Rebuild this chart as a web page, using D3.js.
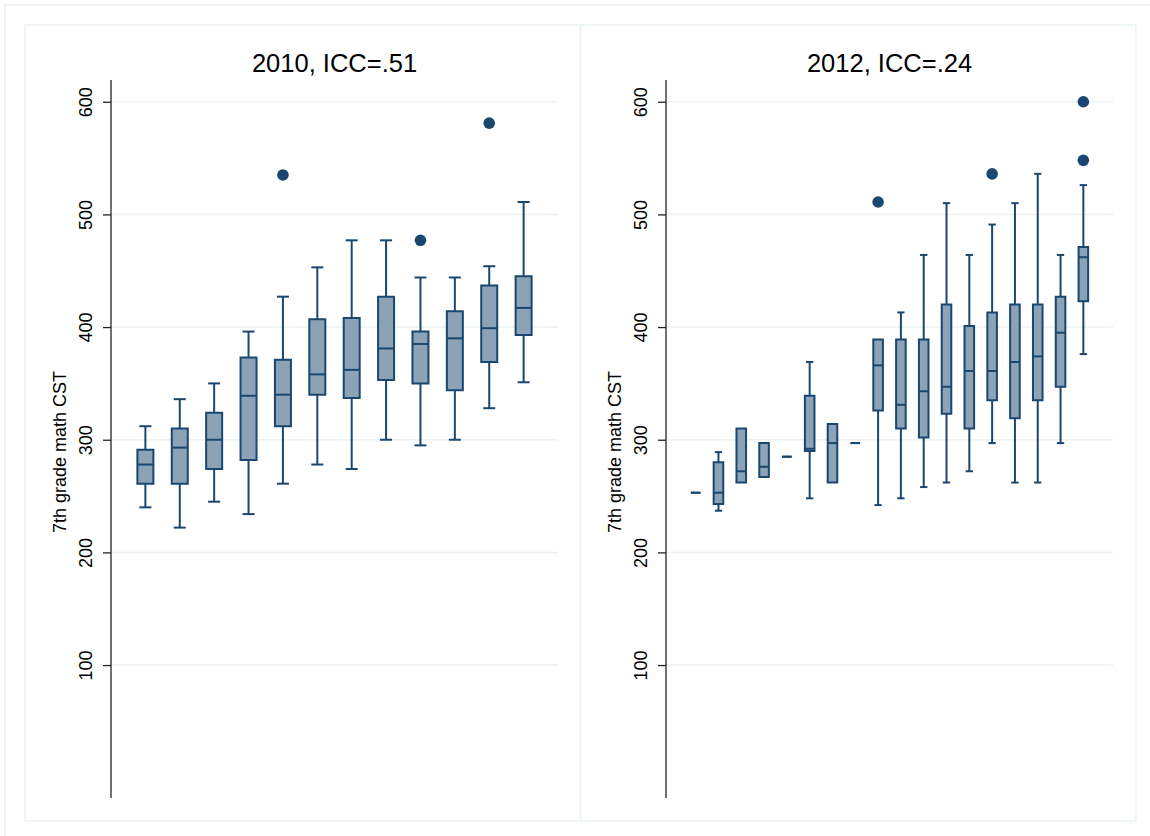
<!DOCTYPE html>
<html>
<head>
<meta charset="utf-8">
<script src="https://cdn.jsdelivr.net/npm/d3@7"></script>
<style>
  html, body { margin: 0; padding: 0; background: #ffffff; }
  svg { display: block; font-family: "Liberation Sans", Arial, Helvetica, sans-serif; }
</style>
</head>
<body>
<svg id="chart" width="1150" height="836"></svg>
<script>
// ---------- DATA ----------
const yTicks = [100, 200, 300, 400, 500, 600];
const yLabel = "7th grade math CST";

const titles2010 = "2010, ICC=.51";
const schools2010 = ["1","2","3","4","5","6","7","8","9","10","11","12"];
const lo2010  = [240, 222, 245, 234, 261, 278, 274, 300, 295, 300, 328, 351];
const q1_2010 = [261, 261, 274, 282, 312, 340, 337, 353, 350, 344, 369, 393];
const med2010 = [278, 293, 300, 339, 340, 358, 362, 381, 385, 390, 399, 417];
const q3_2010 = [291, 310, 324, 373, 371, 407, 408, 427, 396, 414, 437, 445];
const hi2010  = [312, 336, 350, 396, 427, 453, 477, 477, 444, 444, 454, 511];
const out2010 = [[], [], [], [], [535], [], [], [], [477], [], [581], []];

const titles2012 = "2012, ICC=.24";
const schools2012 = ["1","2","3","4","5","6","7","8","9","10","11","12","13","14","15","16","17","18"];
const lo2012  = [253, 237, 262, 267, 285, 248, 262, 297, 242, 248, 258, 262, 272, 297, 262, 262, 297, 376];
const q1_2012 = [253, 243, 262, 267, 285, 290, 262, 297, 326, 310, 302, 323, 310, 335, 319, 335, 347, 423];
const med2012 = [253, 253, 272, 276, 285, 292, 297, 297, 366, 331, 343, 347, 361, 361, 369, 374, 395, 462];
const q3_2012 = [253, 280, 310, 297, 285, 339, 314, 297, 389, 389, 389, 420, 401, 413, 420, 420, 427, 471];
const hi2012  = [253, 289, 310, 297, 285, 369, 314, 297, 389, 413, 464, 510, 464, 491, 510, 536, 464, 526];
const out2012 = [[], [], [], [], [], [], [], [], [511], [], [], [], [], [536], [], [], [], [548, 600]];

// ---------- STYLE / LAYOUT ----------
const navy = "#1a476f";
const boxFill = "#8ca3b7";
const gridCol = "#eaf2f3";

const svg = d3.select("#chart");

// outer graph frame
svg.append("rect").attr("x", 5).attr("y", 5).attr("width", 1160).attr("height", 850)
  .attr("fill", "none").attr("stroke", gridCol).attr("stroke-width", 1.5);

const y = d3.scaleLinear().domain([-18, 619.3]).range([798, 80]);

const panels = [
  { title: titles2010, cats: schools2010, lo: lo2010, q1: q1_2010, med: med2010, q3: q3_2010, hi: hi2010, out: out2010,
    frame: [25, 25, 555.5, 796], axisX: 111, gridEnd: 558, pad: 1.0, boxFrac: 0.465, capFrac: 0.35 },
  { title: titles2012, cats: schools2012, lo: lo2012, q1: q1_2012, med: med2012, q3: q3_2012, hi: hi2012, out: out2012,
    frame: [580.5, 25, 555.5, 796], axisX: 666, gridEnd: 1113, pad: 1.3, boxFrac: 0.42, capFrac: 0.32 }
];

panels.forEach(p => {
  const g = svg.append("g");

  // panel frame
  g.append("rect").attr("x", p.frame[0]).attr("y", p.frame[1])
    .attr("width", p.frame[2]).attr("height", p.frame[3])
    .attr("fill", "none").attr("stroke", gridCol).attr("stroke-width", 1.5);

  const x = d3.scalePoint().domain(p.cats).range([p.axisX, p.gridEnd]).padding(p.pad);
  const step = x.step();
  const bw = step * p.boxFrac;
  const cw = step * p.capFrac;

  // gridlines
  g.append("g").selectAll("line").data(yTicks).join("line")
    .attr("x1", p.axisX).attr("x2", p.gridEnd)
    .attr("y1", d => y(d)).attr("y2", d => y(d))
    .attr("stroke", gridCol).attr("stroke-width", 1.5);

  // y axis
  const axis = d3.axisLeft(y).tickValues(yTicks).tickSize(8).tickFormat(d3.format("d"));
  const ag = g.append("g").attr("transform", `translate(${p.axisX},0)`).call(axis);
  ag.select(".domain").attr("d", `M0,${y.range()[0]}V${y.range()[1]}`)
    .attr("stroke", "#222").attr("stroke-width", 1.3);
  ag.selectAll(".tick line").attr("stroke", "#222").attr("stroke-width", 1.3);
  ag.selectAll(".tick text")
    .attr("x", 0).attr("dy", null).attr("y", 0)
    .attr("transform", "translate(-19,0) rotate(-90)")
    .attr("text-anchor", "middle")
    .attr("dominant-baseline", "auto")
    .attr("font-size", 18).attr("fill", "#000")
    .attr("font-family", "'Liberation Sans', Arial, sans-serif");

  // y title
  g.append("text")
    .attr("transform", `translate(${p.axisX - 45},452) rotate(-90)`)
    .attr("text-anchor", "middle").attr("font-size", 18).attr("fill", "#000")
    .text(yLabel);

  // title
  g.append("text")
    .attr("x", (p.axisX + p.gridEnd) / 2).attr("y", 71.5)
    .attr("text-anchor", "middle").attr("font-size", 25.5).attr("fill", "#000")
    .text(p.title);

  const data = p.cats.map((c, i) => ({ c, lo: p.lo[i], q1: p.q1[i], med: p.med[i], q3: p.q3[i], hi: p.hi[i], out: p.out[i] }));

  const bg = g.append("g").selectAll("g").data(data).join("g");

  // whiskers
  bg.filter(d => d.hi > d.q3).append("line")
    .attr("x1", d => x(d.c)).attr("x2", d => x(d.c))
    .attr("y1", d => y(d.q3)).attr("y2", d => y(d.hi))
    .attr("stroke", navy).attr("stroke-width", 2);
  bg.filter(d => d.lo < d.q1).append("line")
    .attr("x1", d => x(d.c)).attr("x2", d => x(d.c))
    .attr("y1", d => y(d.q1)).attr("y2", d => y(d.lo))
    .attr("stroke", navy).attr("stroke-width", 2);
  // caps
  bg.filter(d => d.hi > d.q3).append("line")
    .attr("x1", d => x(d.c) - cw / 2).attr("x2", d => x(d.c) + cw / 2)
    .attr("y1", d => y(d.hi)).attr("y2", d => y(d.hi))
    .attr("stroke", navy).attr("stroke-width", 2);
  bg.filter(d => d.lo < d.q1).append("line")
    .attr("x1", d => x(d.c) - cw / 2).attr("x2", d => x(d.c) + cw / 2)
    .attr("y1", d => y(d.lo)).attr("y2", d => y(d.lo))
    .attr("stroke", navy).attr("stroke-width", 2);

  // boxes (path so zero-height boxes still render as a dash)
  bg.append("path")
    .attr("d", d => {
      const x0 = x(d.c) - bw / 2, x1 = x(d.c) + bw / 2;
      return `M${x0},${y(d.q3)}H${x1}V${y(d.q1)}H${x0}Z`;
    })
    .attr("fill", boxFill).attr("stroke", navy).attr("stroke-width", 2)
    .attr("stroke-linejoin", "miter");

  // medians
  bg.append("line")
    .attr("x1", d => x(d.c) - bw / 2).attr("x2", d => x(d.c) + bw / 2)
    .attr("y1", d => y(d.med)).attr("y2", d => y(d.med))
    .attr("stroke", navy).attr("stroke-width", 2);

  // outliers
  bg.selectAll("circle").data(d => d.out.map(v => ({ c: d.c, v }))).join("circle")
    .attr("cx", d => x(d.c)).attr("cy", d => y(d.v)).attr("r", 5.8)
    .attr("fill", navy);
});
</script>
</body>
</html>
